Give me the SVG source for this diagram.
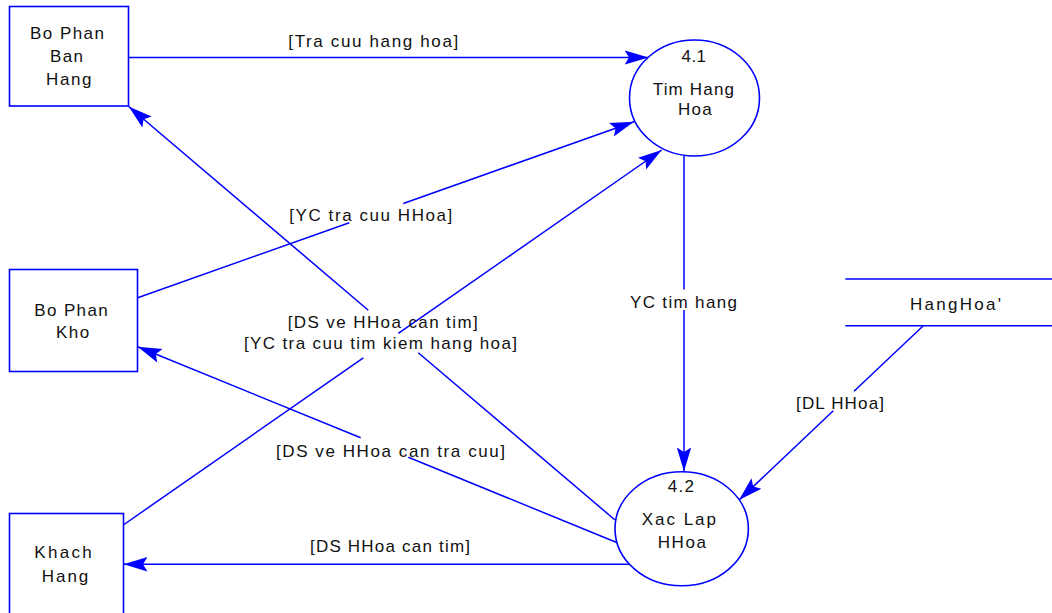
<svg xmlns="http://www.w3.org/2000/svg" width="1052" height="613" viewBox="0 0 1052 613">
<style>
.shape{fill:#fff;stroke:#0000ff;stroke-width:1.6}
.store{fill:none;stroke:#0000ff;stroke-width:1.6}
.conn{fill:none;stroke:#0000ff;stroke-width:1.5;marker-end:url(#ah)}
text{font-family:"Liberation Sans",Arial,sans-serif;font-size:17px;fill:#111}
</style>
<defs>
<marker id="ah" markerUnits="userSpaceOnUse" markerWidth="26" markerHeight="16" refX="24" refY="8" orient="auto" viewBox="0 0 26 16">
<path d="M0,0.8 L24,8 L0,15.2 L4.5,8 Z" fill="#0000ff"/>
</marker>
</defs>
<rect width="1052" height="613" fill="#fff"/>
<g id="connectors">
<path class="conn" d="M128.5,57.5 L648.5,57.5"/>
<path class="conn" d="M684,155.2 L684,289.5 M684,310 L684,471.5"/>
<path class="conn" d="M137.7,297.7 L349.3,222.7 M403.3,203.5 L634,121.7"/>
<path class="conn" d="M123.3,525 L363.3,357.8 M398.3,333.4 L661.7,150"/>
<path class="conn" d="M615,520 L418.3,352.7 M368.3,310.2 L128.7,106.5"/>
<path class="conn" d="M617.3,542.7 L408.3,457.3 M360.7,437.8 L137.7,346.7"/>
<path class="conn" d="M629,564.3 L123.5,564.3"/>
<path class="conn" d="M923.3,325.7 L854,391.2 M833.3,410.8 L739,500"/>
<text x="288.3" y="46.5" textLength="170" lengthAdjust="spacing">[Tra cuu hang hoa]</text>
<text x="630" y="307.8" textLength="107" lengthAdjust="spacing">YC tim hang</text>
<text x="289.3" y="220.8" textLength="163" lengthAdjust="spacing">[YC tra cuu HHoa]</text>
<text x="287.7" y="327.7" textLength="190" lengthAdjust="spacing">[DS ve HHoa can tim]</text>
<text x="244" y="349.2" textLength="273" lengthAdjust="spacing">[YC tra cuu tim kiem hang hoa]</text>
<text x="796" y="409.3" textLength="88" lengthAdjust="spacing">[DL HHoa]</text>
<text x="276" y="456.7" textLength="229" lengthAdjust="spacing">[DS ve HHoa can tra cuu]</text>
<text x="310" y="552.3" textLength="160" lengthAdjust="spacing">[DS HHoa can tim]</text>
</g>
<g id="bo-phan-ban-hang">
<rect class="shape" x="9.5" y="6.5" width="119" height="99.5"/>
<text x="30" y="39" textLength="74" lengthAdjust="spacing">Bo Phan</text>
<text x="50" y="62" textLength="33" lengthAdjust="spacing">Ban</text>
<text x="46" y="85" textLength="45.5" lengthAdjust="spacing">Hang</text>
</g>
<g id="bo-phan-kho">
<rect class="shape" x="9.5" y="269.5" width="128" height="102"/>
<text x="34.3" y="315.7" textLength="73.4" lengthAdjust="spacing">Bo Phan</text>
<text x="56" y="338.3" textLength="33.3" lengthAdjust="spacing">Kho</text>
</g>
<g id="khach-hang">
<rect class="shape" x="9.5" y="513.5" width="114" height="110"/>
<text x="34.3" y="558.3" textLength="57.4" lengthAdjust="spacing">Khach</text>
<text x="41.7" y="581.7" textLength="46.6" lengthAdjust="spacing">Hang</text>
</g>
<g id="process-4-1">
<ellipse class="shape" cx="694.5" cy="98" rx="65" ry="58"/>
<text x="681.5" y="62" textLength="24.5" lengthAdjust="spacing">4.1</text>
<text x="652.7" y="95" textLength="81.3" lengthAdjust="spacing">Tim Hang</text>
<text x="678" y="115" textLength="33.7" lengthAdjust="spacing">Hoa</text>
</g>
<g id="process-4-2">
<ellipse class="shape" cx="681.7" cy="528.8" rx="66.7" ry="57"/>
<text x="667.7" y="491.7" textLength="26.3" lengthAdjust="spacing">4.2</text>
<text x="641.7" y="525" textLength="74.3" lengthAdjust="spacing">Xac Lap</text>
<text x="657.7" y="547.7" textLength="48.3" lengthAdjust="spacing">HHoa</text>
</g>
<g id="store-hanghoa">
<path class="store" d="M845.3,279 H1052 M845.3,325.7 H1052"/>
<text x="910" y="310" textLength="91" lengthAdjust="spacing">HangHoa'</text>
</g>
</svg>
